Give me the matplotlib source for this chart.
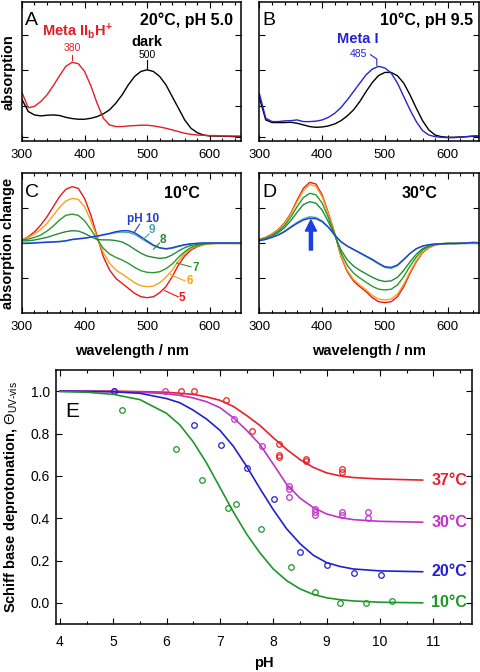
import matplotlib
matplotlib.use("Agg")
import matplotlib.pyplot as plt
import numpy as np
from matplotlib.ticker import MultipleLocator

plt.rcParams["font.family"] = ["Liberation Sans", "DejaVu Sans"]
plt.rcParams["mathtext.fontset"] = "custom"
plt.rcParams["mathtext.rm"] = "Liberation Sans"
plt.rcParams["mathtext.bf"] = "Liberation Sans:bold"
plt.rcParams["mathtext.it"] = "Liberation Sans:italic"
plt.rcParams["axes.linewidth"] = 1.1

# --- spectra (wavelength grid, 10 nm) ---
wl = np.arange(300, 651, 10)

# panel A: 20°C, pH 5.0 (relative absorption)
a_dark = [0.30, 0.213, 0.188, 0.181, 0.186, 0.188, 0.184, 0.171, 0.162, 0.157, 0.157, 0.164,
          0.176, 0.196, 0.225, 0.273, 0.333, 0.406, 0.466, 0.502, 0.514, 0.502, 0.466, 0.406,
          0.321, 0.237, 0.152, 0.092, 0.060, 0.043, 0.036, 0.036, 0.034, 0.034, 0.031, 0.031]
a_meta2 = [0.35, 0.240, 0.250, 0.285, 0.333, 0.399, 0.471, 0.539, 0.568, 0.558, 0.502, 0.399,
           0.273, 0.164, 0.116, 0.104, 0.104, 0.109, 0.111, 0.114, 0.114, 0.109, 0.101, 0.092,
           0.080, 0.068, 0.056, 0.048, 0.043, 0.041, 0.039, 0.039, 0.036, 0.036, 0.036, 0.036]

# panel B: 10°C, pH 9.5
b_dark = [0.31, 0.152, 0.133, 0.133, 0.133, 0.135, 0.128, 0.116, 0.104, 0.099, 0.101, 0.109,
          0.123, 0.147, 0.181, 0.225, 0.285, 0.357, 0.423, 0.473, 0.495, 0.495, 0.471, 0.418,
          0.333, 0.237, 0.147, 0.080, 0.043, 0.031, 0.027, 0.027, 0.029, 0.031, 0.034, 0.036]
b_meta1 = [0.34, 0.164, 0.140, 0.140, 0.145, 0.147, 0.152, 0.140, 0.140, 0.143, 0.152, 0.171,
           0.200, 0.242, 0.297, 0.357, 0.418, 0.478, 0.519, 0.539, 0.527, 0.490, 0.418, 0.321,
           0.225, 0.140, 0.075, 0.043, 0.031, 0.027, 0.024, 0.024, 0.027, 0.031, 0.036, 0.036]

# panel C: difference spectra 10°C, pH 5..10
c_ph5 = [0.043, 0.09, 0.16, 0.257, 0.376, 0.52, 0.662, 0.767, 0.805, 0.78, 0.638, 0.40, 0.10,
         -0.195, -0.386, -0.505, -0.576, -0.648, -0.719, -0.767, -0.781, -0.767, -0.71, -0.624,
         -0.481, -0.314, -0.186, -0.10, -0.052, -0.024, -0.01, -0.005, -0.005, -0.005, -0.005, -0.005]
c_ph6 = [0.052, 0.081, 0.129, 0.195, 0.281, 0.395, 0.51, 0.60, 0.638, 0.624, 0.519, 0.319, 0.081,
         -0.138, -0.29, -0.386, -0.443, -0.505, -0.567, -0.61, -0.624, -0.614, -0.567, -0.49,
         -0.386, -0.257, -0.148, -0.081, -0.043, -0.02, -0.01, -0.005, -0.005, -0.005, -0.005, -0.005]
c_ph7 = [0.043, 0.057, 0.081, 0.114, 0.171, 0.243, 0.329, 0.395, 0.414, 0.395, 0.319, 0.195, 0.052,
         -0.076, -0.157, -0.205, -0.243, -0.29, -0.348, -0.395, -0.419, -0.424, -0.41, -0.367,
         -0.30, -0.205, -0.124, -0.062, -0.033, -0.014, -0.005, -0.005, -0.005, -0.005, -0.005, -0.005]
c_ph8 = [0.029, 0.033, 0.043, 0.062, 0.081, 0.11, 0.138, 0.162, 0.176, 0.171, 0.138, 0.09, 0.05,
         0.045, 0.045, 0.035, 0.015, -0.03, -0.09, -0.145, -0.186, -0.205, -0.219, -0.21,
         -0.171, -0.114, -0.067, -0.033, -0.019, -0.005, -0.005, -0.005, -0.005, -0.005, -0.005, -0.005]
c_ph9 = [-0.005, 0.0, 0.005, 0.01, 0.014, 0.019, 0.024, 0.033, 0.048, 0.057, 0.067, 0.081, 0.095,
         0.114, 0.13, 0.148, 0.157, 0.152, 0.124, 0.071, 0.014, -0.038, -0.071, -0.086,
         -0.076, -0.05, -0.029, -0.014, -0.005, 0.0, 0.0, 0.0, 0.0, 0.0, 0.0, 0.0]
c_ph10 = [-0.005, -0.005, 0.0, 0.005, 0.01, 0.014, 0.019, 0.03, 0.052, 0.062, 0.071, 0.086, 0.10,
          0.119, 0.138, 0.162, 0.176, 0.176, 0.148, 0.09, 0.029, -0.029, -0.067, -0.081,
          -0.067, -0.043, -0.024, -0.01, -0.005, 0.0, 0.0, 0.0, 0.0, 0.0, 0.0, 0.0]

# panel D: difference spectra 30°C
d_ph5 = [0.052, 0.081, 0.129, 0.195, 0.29, 0.424, 0.614, 0.781, 0.867, 0.843, 0.686, 0.424, 0.138,
         -0.195, -0.41, -0.543, -0.624, -0.695, -0.781, -0.838, -0.852, -0.838, -0.767, -0.624,
         -0.433, -0.267, -0.138, -0.067, -0.029, -0.014, -0.005, -0.005, -0.005, -0.005, 0.0, -0.005]
d_ph6 = [0.05, 0.078, 0.125, 0.19, 0.28, 0.41, 0.59, 0.75, 0.835, 0.81, 0.66, 0.41, 0.135,
         -0.185, -0.39, -0.52, -0.60, -0.67, -0.75, -0.80, -0.815, -0.80, -0.73, -0.59,
         -0.41, -0.25, -0.13, -0.065, -0.03, -0.014, -0.005, -0.005, -0.005, -0.005, -0.005, -0.005]
d_ph7 = [0.045, 0.07, 0.11, 0.17, 0.25, 0.37, 0.52, 0.65, 0.71, 0.69, 0.57, 0.36, 0.12,
         -0.14, -0.32, -0.43, -0.50, -0.56, -0.62, -0.66, -0.67, -0.66, -0.60, -0.48,
         -0.33, -0.20, -0.10, -0.05, -0.02, -0.01, -0.005, -0.005, -0.005, -0.005, -0.005, -0.005]
d_ph8 = [0.04, 0.065, 0.10, 0.15, 0.22, 0.32, 0.44, 0.55, 0.59, 0.57, 0.47, 0.30, 0.11,
         -0.10, -0.24, -0.33, -0.39, -0.44, -0.49, -0.53, -0.55, -0.54, -0.49, -0.39,
         -0.27, -0.16, -0.08, -0.04, -0.02, -0.01, -0.005, -0.005, -0.005, -0.005, -0.005, -0.005]
d_ph9 = [0.035, 0.055, 0.085, 0.12, 0.17, 0.235, 0.295, 0.345, 0.375, 0.365, 0.315, 0.225, 0.11,
         0.015, -0.045, -0.095, -0.145, -0.195, -0.245, -0.30, -0.35, -0.362, -0.325, -0.24,
         -0.15, -0.083, -0.045, -0.025, -0.014, -0.01, -0.005, -0.005, -0.005, -0.005, 0.0, -0.005]
d_ph10 = [0.033, 0.052, 0.081, 0.114, 0.162, 0.224, 0.281, 0.329, 0.352, 0.348, 0.305, 0.224, 0.114,
          0.019, -0.043, -0.09, -0.138, -0.186, -0.233, -0.29, -0.338, -0.348, -0.314, -0.233,
          -0.148, -0.081, -0.043, -0.024, -0.014, -0.01, -0.01, -0.01, -0.005, 0.0, 0.01, 0.005]

ph_colors = ["#e8161b", "#f7a21b", "#2a9a2a", "#238a3c", "#45a4b0", "#1f3fd0"]

# --- panel E: Schiff base deprotonation vs pH ---
ph_fit = [4.0, 4.5, 5.0, 5.5, 6.0, 6.25, 6.5, 6.75, 7.0, 7.25, 7.5, 7.75, 8.0, 8.25, 8.5,
          8.75, 9.0, 9.25, 9.5, 10.0, 10.8]
fit_37 = [1.0, 1.0, 1.0, 0.998, 0.995, 0.99, 0.985, 0.973, 0.957, 0.928, 0.885, 0.838, 0.78,
          0.725, 0.677, 0.64, 0.614, 0.60, 0.592, 0.585, 0.58]
fit_30 = [1.0, 1.0, 0.998, 0.995, 0.988, 0.98, 0.968, 0.95, 0.922, 0.875, 0.815, 0.748, 0.655,
          0.56, 0.495, 0.45, 0.42, 0.403, 0.393, 0.385, 0.381]
fit_20 = [1.0, 0.999, 0.997, 0.99, 0.965, 0.945, 0.91, 0.868, 0.815, 0.74, 0.645, 0.54, 0.44,
          0.35, 0.28, 0.225, 0.19, 0.172, 0.16, 0.151, 0.147]
fit_10 = [0.998, 0.995, 0.985, 0.96, 0.895, 0.84, 0.76, 0.66, 0.545, 0.43, 0.325, 0.236, 0.16,
          0.105, 0.066, 0.04, 0.024, 0.015, 0.009, 0.003, 0.0]

ph_37 = [6.27, 6.52, 7.11, 7.61, 8.11, 8.11, 8.11, 8.61, 8.61, 9.28, 9.28]
th_37 = [1.0, 1.0, 0.96, 0.81, 0.75, 0.70, 0.69, 0.68, 0.67, 0.633, 0.62]
ph_30 = [5.02, 5.97, 7.27, 7.79, 8.29, 8.29, 8.29, 8.79, 8.79, 8.79, 9.28, 9.28, 9.78, 9.78]
th_30 = [1.0, 1.0, 0.869, 0.739, 0.551, 0.539, 0.499, 0.444, 0.431, 0.416, 0.431, 0.413, 0.431, 0.40]
ph_20 = [5.02, 6.52, 7.02, 7.51, 8.02, 8.51, 9.01, 9.52, 10.02]
th_20 = [1.0, 0.839, 0.748, 0.638, 0.491, 0.239, 0.181, 0.142, 0.131]
ph_10 = [5.17, 6.17, 6.66, 7.16, 7.31, 7.77, 8.33, 8.79, 9.26, 9.73, 10.23]
th_10 = [0.909, 0.729, 0.58, 0.449, 0.469, 0.35, 0.17, 0.05, 0.0, 0.0, 0.011]

temp_labels = ["37°C", "30°C", "20°C", "10°C"]
temp_colors = ["#e8202a", "#c032c8", "#2020d0", "#20962a"]


def style_spec(ax, ylim, yticks):
    ax.set_xlim(300, 650)
    ax.set_ylim(*ylim)
    ax.set_xticks([300, 400, 500, 600])
    ax.xaxis.set_minor_locator(MultipleLocator(20))
    ax.set_yticks(yticks)
    ax.tick_params(which="both", direction="in", top=True, right=True, labelleft=False,
                   width=0.8)
    ax.tick_params(which="major", length=4, labelsize=9.5, pad=6)
    ax.tick_params(which="minor", length=2.4)


fig = plt.figure(figsize=(4.8, 6.72), dpi=100)
axA = fig.add_axes([0.0458, 0.7902, 0.4563, 0.2061])
axB = fig.add_axes([0.5406, 0.7902, 0.4573, 0.2061])
axC = fig.add_axes([0.0458, 0.5342, 0.4563, 0.2083])
axD = fig.add_axes([0.5406, 0.5342, 0.4573, 0.2083])
axE = fig.add_axes([0.116, 0.0714, 0.8667, 0.378])

abs_ticks = [0.031, 0.254, 0.509, 0.763]

# A
axA.plot(wl, a_dark, color="black", lw=1.0)
axA.plot(wl, a_meta2, color="#e31e24", lw=1.0)
style_spec(axA, (0, 1.0), abs_ticks)
axA.text(0.014, 0.841, "A", transform=axA.transAxes, fontsize=14)
axA.text(0.963, 0.841, "20°C, pH 5.0", transform=axA.transAxes, ha="right",
         fontsize=11.5, fontweight="bold")
axA.text(388, 0.761, r"Meta II$_\mathbf{b}$H$^\mathbf{+}$", ha="center", color="#e31e24",
         fontsize=10.5, fontweight="bold")
axA.text(380, 0.647, "380", ha="center", color="#e31e24", fontsize=7.5)
axA.plot([380, 380], [0.582, 0.623], color="#e31e24", lw=0.8)
axA.text(500, 0.688, "dark", ha="center", fontsize=10.5, fontweight="bold")
axA.text(500, 0.599, "500", ha="center", fontsize=7.5)
axA.plot([500, 500], [0.522, 0.582], color="black", lw=0.8)

# B
axB.plot(wl, b_dark, color="black", lw=1.0)
axB.plot(wl, b_meta1, color="#2424d0", lw=1.0)
style_spec(axB, (0, 1.0), abs_ticks)
axB.text(0.014, 0.841, "B", transform=axB.transAxes, fontsize=14)
axB.text(0.973, 0.841, "10°C, pH 9.5", transform=axB.transAxes, ha="right",
         fontsize=11.5, fontweight="bold")
axB.text(457, 0.708, "Meta I", ha="center", color="#2424d0", fontsize=10.5, fontweight="bold")
axB.text(457, 0.607, "485", ha="center", color="#2424d0", fontsize=7.5)
axB.plot([477, 487, 487], [0.623, 0.592, 0.546], color="#2424d0", lw=0.8)

# C
for ys, col in zip([c_ph5, c_ph6, c_ph7, c_ph8, c_ph9, c_ph10], ph_colors):
    axC.plot(wl, ys, color=col, lw=1.0)
style_spec(axC, (-1, 1), [-0.5, 0, 0.5])
axC.text(0.014, 0.831, "C", transform=axC.transAxes, fontsize=14)
axC.text(0.813, 0.819, "10°C", transform=axC.transAxes, ha="right",
         fontsize=11.5, fontweight="bold")
axC.text(0.479, 0.652, "pH 10", transform=axC.transAxes, color=ph_colors[5],
         fontsize=8.5, fontweight="bold")
c_lab = [("9", 0.594, 0.57, ph_colors[4], [503, 493], [0.13, 0.045]),
         ("8", 0.641, 0.498, ph_colors[3], [520, 510], [0.0, -0.09]),
         ("7", 0.795, 0.302, ph_colors[2], [570, 547], [-0.34, -0.285]),
         ("6", 0.766, 0.205, ph_colors[1], [560, 537], [-0.54, -0.45]),
         ("5", 0.729, 0.086, ph_colors[0], [550, 528], [-0.77, -0.68])]
for txt, xf, yf, col, lx, ly in c_lab:
    axC.text(xf, yf, txt, transform=axC.transAxes, ha="center", color=col,
             fontsize=8.5, fontweight="bold")
    axC.plot(lx, ly, color=col, lw=0.8)
axC.plot([488, 480], [0.27, 0.16], color=ph_colors[5], lw=0.8)

# D
for ys, col in zip([d_ph5, d_ph6, d_ph7, d_ph8, d_ph9, d_ph10], ph_colors):
    axD.plot(wl, ys, color=col, lw=1.0)
style_spec(axD, (-1, 1), [-0.5, 0, 0.5])
axD.text(0.014, 0.831, "D", transform=axD.transAxes, fontsize=14)
axD.text(0.809, 0.819, "30°C", transform=axD.transAxes, ha="right",
         fontsize=11.5, fontweight="bold")
axD.annotate("", xy=(382, 0.33), xytext=(382, -0.1),
             arrowprops=dict(facecolor="#1a3ee8", edgecolor="#1a3ee8",
                             width=2.2, headwidth=8, headlength=8))

for ax in (axC, axD):
    pass
fig.text(0.017, 0.8932, "absorption", rotation=90, ha="center", va="center",
         fontsize=10.5, fontweight="bold")
fig.text(0.017, 0.6384, "absorption change", rotation=90, ha="center", va="center",
         fontsize=10.5, fontweight="bold")
fig.text(0.274, 0.4717, "wavelength / nm", ha="center", fontsize=10.5, fontweight="bold")
fig.text(0.769, 0.4717, "wavelength / nm", ha="center", fontsize=10.5, fontweight="bold")

# E
fits = [fit_37, fit_30, fit_20, fit_10]
pts = [(ph_37, th_37), (ph_30, th_30), (ph_20, th_20), (ph_10, th_10)]
for fit, (px, py), col, lab in zip(fits, pts, temp_colors, temp_labels):
    axE.plot(ph_fit, fit, color=col, lw=1.2)
    axE.plot(px, py, "o", mfc="none", mec=col, ms=4, mew=0.9)
    axE.text(10.96, fit[-1], lab, color=col, va="center", ha="left", fontsize=11.5,
             fontweight="bold")
axE.set_xlim(3.92, 11.72)
axE.set_ylim(-0.1, 1.1)
axE.set_xticks(range(4, 12))
axE.xaxis.set_minor_locator(MultipleLocator(0.5))
axE.set_yticks([0.0, 0.2, 0.4, 0.6, 0.8, 1.0])
axE.set_yticklabels(["0.0", "0.2", "0.4", "0.6", "0.8", "1.0"])
axE.tick_params(which="both", direction="in", top=True, right=True, width=0.8)
axE.tick_params(which="major", length=4, labelsize=10)
axE.tick_params(axis="x", which="major", pad=8)
axE.tick_params(axis="y", which="major", pad=4)
axE.tick_params(which="minor", length=2.4)
axE.text(0.022, 0.816, "E", transform=axE.transAxes, fontsize=15)
fig.text(0.549, 0.0074, "pH", ha="center", fontsize=10.5, fontweight="bold")
fig.text(0.023, 0.2604, r"Schiff base deprotonation, $\Theta_\mathrm{UV\text{-}vis}$",
         rotation=90, ha="center", va="center", fontsize=10.5, fontweight="bold")

fig.savefig("out.png", dpi=100)
